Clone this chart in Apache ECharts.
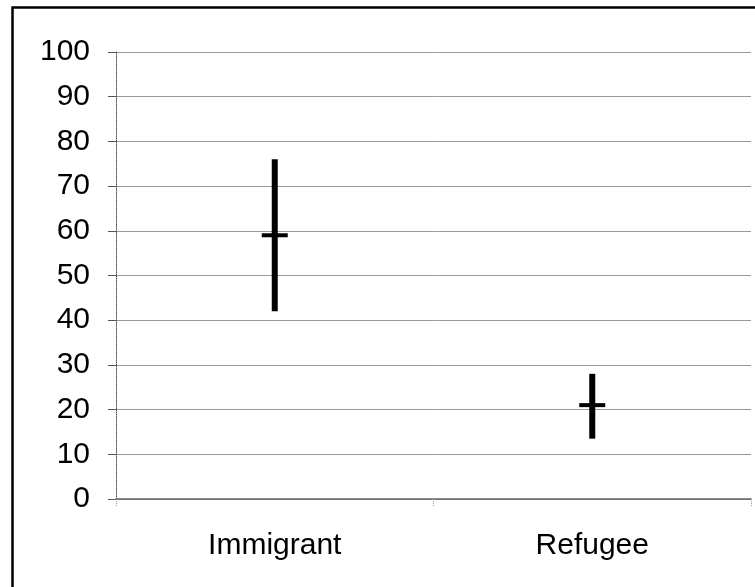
<!DOCTYPE html>
<html>
<head>
<meta charset="utf-8">
<script src="https://cdn.jsdelivr.net/npm/echarts@6/dist/echarts.min.js"></script>
<style>
html,body{margin:0;padding:0;background:#fff;}
#chart{width:755px;height:587px;}
</style>
</head>
<body>
<div id="chart"></div>
<script>
var categories = ['Immigrant', 'Refugee'];
var highValues = [76, 28];
var lowValues = [42, 13.5];
var meanValues = [59, 21];
var yTicks = [0, 10, 20, 30, 40, 50, 60, 70, 80, 90, 100];

var seriesData = categories.map(function (c, i) {
  return [i, lowValues[i], highValues[i], meanValues[i]];
});

var chart = echarts.init(document.getElementById('chart'), null, {renderer: 'canvas'});
var FONT = '"Liberation Sans", Arial, sans-serif';
chart.setOption({
  animation: false,
  backgroundColor: '#ffffff',
  graphic: [{
    type: 'rect',
    left: 10, top: 5,
    shape: {x: 0, y: 0, width: 800, height: 700},
    style: {fill: 'none', stroke: '#000', lineWidth: 2.5},
    silent: true,
    z: 100
  }],
  grid: {left: 116, right: 4, top: 52, bottom: 88, containLabel: false},
  xAxis: {
    type: 'category',
    data: categories,
    boundaryGap: true,
    axisLine: {show: true, lineStyle: {color: '#666', width: 1.5}},
    axisTick: {show: true, length: 8, lineStyle: {color: '#999', type: 'dotted'}},
    axisLabel: {color: '#000', fontSize: 30, fontFamily: FONT, margin: 32},
    splitLine: {show: false}
  },
  yAxis: {
    type: 'value',
    min: yTicks[0],
    max: yTicks[yTicks.length - 1],
    interval: yTicks[1] - yTicks[0],
    axisLine: {show: true, lineStyle: {color: '#555', type: 'dotted', width: 1}},
    axisTick: {show: true, length: 8, lineStyle: {color: '#555', width: 1}},
    axisLabel: {color: '#000', fontSize: 30, fontFamily: FONT, margin: 26},
    splitLine: {show: true, lineStyle: {color: '#999', width: 1}}
  },
  series: [{
    type: 'custom',
    data: seriesData,
    encode: {x: 0, y: [1, 2, 3]},
    renderItem: function (params, api) {
      var x = api.value(0);
      var low = api.coord([x, api.value(1)]);
      var high = api.coord([x, api.value(2)]);
      var mean = api.coord([x, api.value(3)]);
      return {
        type: 'group',
        children: [{
          type: 'line',
          shape: {x1: low[0], y1: low[1], x2: high[0], y2: high[1]},
          style: {stroke: '#000', lineWidth: 6, lineCap: 'butt'}
        }, {
          type: 'line',
          shape: {x1: mean[0] - 13, y1: mean[1], x2: mean[0] + 13, y2: mean[1]},
          style: {stroke: '#000', lineWidth: 4, lineCap: 'butt'}
        }]
      };
    }
  }]
});
</script>
</body>
</html>
